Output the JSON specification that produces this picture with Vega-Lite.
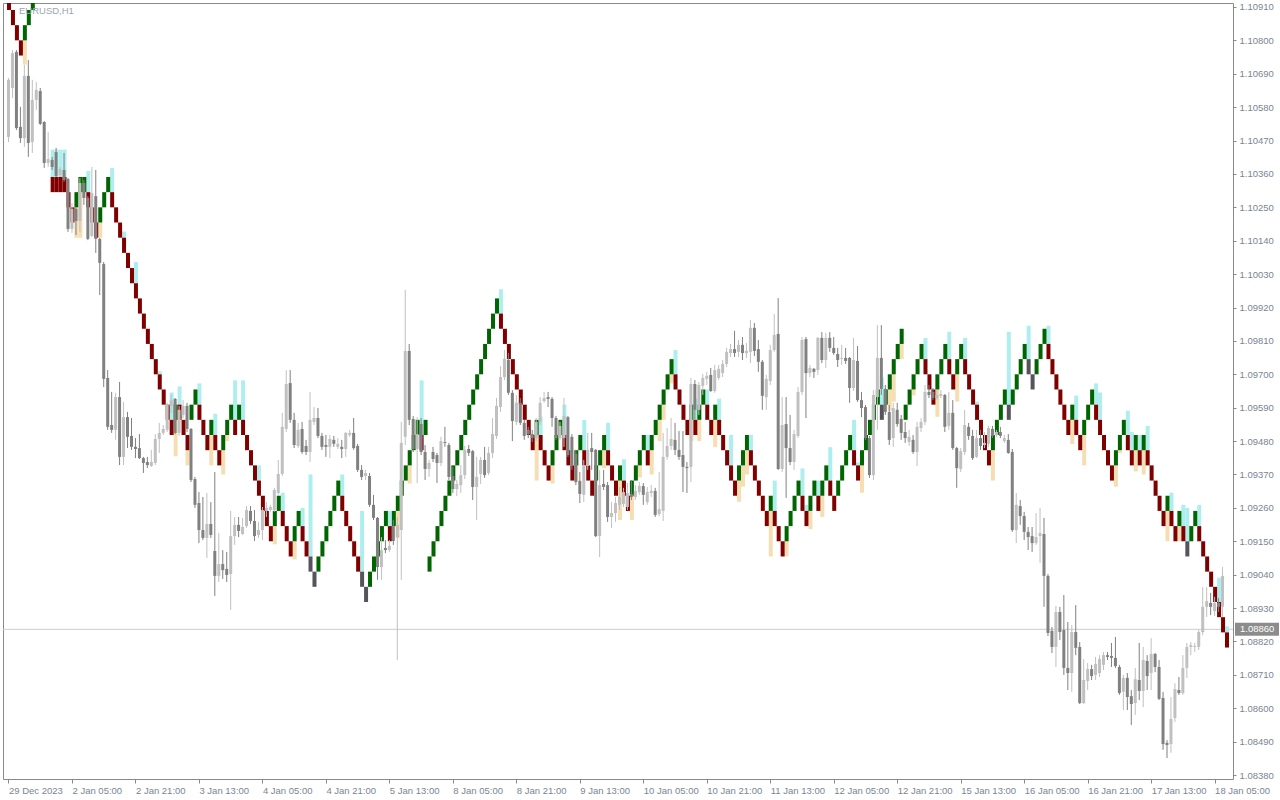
{
"$schema":"https://vega.github.io/schema/vega-lite/v6.json",
"width":1230,"height":776,
"autosize":{"type":"none"},
"padding":{"left":3,"top":3,"right":47,"bottom":21},
"background":"#ffffff",
"config":{"view":{"stroke":"#8a8a8a","strokeWidth":1},"font":"Liberation Sans","axis":{"labelOverlap":false,"labelSeparation":0}},
"title":{"text":"EURUSD,H1","anchor":"start","frame":"group","orient":"top","offset":0,"dx":16,"dy":22,"baseline":"alphabetic","font":"Liberation Sans","fontSize":9.5,"fontWeight":"normal","color":"#9aa5b1"},
"datasets":{
"last":[{"p":1.0886,"t":"1.08860"}],
"bricks":[
{"i":0,"d":"d","b":1.109,"e":1.1095},{"i":1,"d":"d","b":1.1085,"e":1.109},{"i":2,"d":"d","b":1.108,"e":1.1085},{"i":3,"d":"d","b":1.1075,"e":1.108},
{"i":4,"d":"u","b":1.108,"e":1.1085,"lo":1.1072},{"i":5,"d":"u","b":1.1085,"e":1.109},{"i":6,"d":"u","b":1.109,"e":1.1095},
{"i":11,"d":"d","b":1.103,"e":1.1035,"hi":1.1044},{"i":12,"d":"d","b":1.103,"e":1.1035,"hi":1.1044},{"i":13,"d":"d","b":1.103,"e":1.1035,"hi":1.1044},{"i":14,"d":"d","b":1.103,"e":1.1035,"hi":1.1044},
{"i":15,"d":"d","b":1.1025,"e":1.103},{"i":16,"d":"d","b":1.102,"e":1.1025},{"i":17,"d":"u","b":1.1025,"e":1.103,"lo":1.1015},{"i":18,"d":"u","b":1.103,"e":1.1035,"lo":1.1015},{"i":19,"d":"u","b":1.103,"e":1.1035},
{"i":20,"d":"d","b":1.1025,"e":1.103,"hi":1.1037},{"i":21,"d":"d","b":1.102,"e":1.1025},{"i":22,"d":"d","b":1.1015,"e":1.102},{"i":23,"d":"u","b":1.102,"e":1.1025,"lo":1.1015},{"i":24,"d":"u","b":1.1025,"e":1.103},{"i":25,"d":"u","b":1.103,"e":1.1035},
{"i":26,"d":"d","b":1.1025,"e":1.103,"hi":1.1038},{"i":27,"d":"d","b":1.102,"e":1.1025},{"i":28,"d":"d","b":1.1015,"e":1.102},{"i":29,"d":"d","b":1.101,"e":1.1015,"hi":1.1017},{"i":30,"d":"d","b":1.1005,"e":1.101},{"i":31,"d":"d","b":1.1,"e":1.1005},
{"i":32,"d":"d","b":1.0995,"e":1.1,"hi":1.1007},{"i":33,"d":"d","b":1.099,"e":1.0995},{"i":34,"d":"d","b":1.0985,"e":1.099},{"i":35,"d":"d","b":1.098,"e":1.0985},{"i":36,"d":"d","b":1.0975,"e":1.098},{"i":37,"d":"d","b":1.097,"e":1.0975},
{"i":38,"d":"d","b":1.0965,"e":1.097,"hi":1.0971},{"i":39,"d":"d","b":1.096,"e":1.0965},{"i":40,"d":"d","b":1.0955,"e":1.096},{"i":41,"d":"d","b":1.095,"e":1.0955,"hi":1.0964},{"i":42,"d":"u","b":1.0955,"e":1.096,"lo":1.0943},
{"i":43,"d":"d","b":1.0955,"e":1.096,"hi":1.0966},{"i":44,"d":"d","b":1.095,"e":1.0955},{"i":45,"d":"d","b":1.0945,"e":1.095,"lo":1.094},{"i":46,"d":"u","b":1.0955,"e":1.096},{"i":47,"d":"u","b":1.096,"e":1.0965},
{"i":48,"d":"d","b":1.0955,"e":1.096,"hi":1.0967},{"i":49,"d":"d","b":1.095,"e":1.0955},{"i":50,"d":"d","b":1.0945,"e":1.095},{"i":51,"d":"u","b":1.095,"e":1.0955,"lo":1.094},{"i":52,"d":"d","b":1.0945,"e":1.095,"hi":1.0957},
{"i":53,"d":"d","b":1.094,"e":1.0945},{"i":54,"d":"u","b":1.0945,"e":1.095,"lo":1.0937},{"i":55,"d":"u","b":1.095,"e":1.0955,"lo":1.0948},{"i":56,"d":"u","b":1.0955,"e":1.096},{"i":57,"d":"d","b":1.095,"e":1.0955,"hi":1.0968},
{"i":58,"d":"u","b":1.0955,"e":1.096},{"i":59,"d":"d","b":1.095,"e":1.0955,"hi":1.0968},{"i":60,"d":"d","b":1.0945,"e":1.095},{"i":61,"d":"d","b":1.094,"e":1.0945},{"i":62,"d":"d","b":1.0935,"e":1.094},
{"i":63,"d":"d","b":1.093,"e":1.0935,"hi":1.094},{"i":64,"d":"d","b":1.0925,"e":1.093},{"i":65,"d":"d","b":1.092,"e":1.0925},{"i":66,"d":"d","b":1.0915,"e":1.092},{"i":67,"d":"u","b":1.092,"e":1.0925,"lo":1.0914},
{"i":68,"d":"u","b":1.0925,"e":1.093},{"i":69,"d":"d","b":1.092,"e":1.0925,"hi":1.0931},{"i":70,"d":"d","b":1.0915,"e":1.092},{"i":71,"d":"d","b":1.091,"e":1.0915},{"i":72,"d":"u","b":1.0915,"e":1.092,"lo":1.0909},
{"i":73,"d":"u","b":1.092,"e":1.0925},{"i":74,"d":"d","b":1.0915,"e":1.092,"hi":1.0926},{"i":75,"d":"d","b":1.091,"e":1.0915},{"i":76,"d":"x","b":1.0905,"e":1.091,"hi":1.0937},{"i":77,"d":"x","b":1.09,"e":1.0905},
{"i":78,"d":"u","b":1.0905,"e":1.091},{"i":79,"d":"u","b":1.091,"e":1.0915},{"i":80,"d":"u","b":1.0915,"e":1.092},{"i":81,"d":"u","b":1.092,"e":1.0925},{"i":82,"d":"u","b":1.0925,"e":1.093},{"i":83,"d":"u","b":1.093,"e":1.0935},
{"i":84,"d":"d","b":1.0925,"e":1.093,"hi":1.0937},{"i":85,"d":"d","b":1.092,"e":1.0925},{"i":86,"d":"d","b":1.0915,"e":1.092},{"i":87,"d":"d","b":1.091,"e":1.0915},{"i":88,"d":"d","b":1.0905,"e":1.091},
{"i":89,"d":"x","b":1.09,"e":1.0905,"hi":1.0925},{"i":90,"d":"x","b":1.0895,"e":1.09},{"i":91,"d":"u","b":1.09,"e":1.0905},{"i":92,"d":"u","b":1.0905,"e":1.091},{"i":93,"d":"u","b":1.091,"e":1.0915},{"i":94,"d":"u","b":1.0915,"e":1.092},{"i":95,"d":"u","b":1.092,"e":1.0925},
{"i":96,"d":"d","b":1.0915,"e":1.092,"hi":1.0925},{"i":97,"d":"u","b":1.092,"e":1.0925},{"i":98,"d":"u","b":1.0925,"e":1.093,"lo":1.0916},{"i":99,"d":"u","b":1.093,"e":1.0935},{"i":100,"d":"u","b":1.0935,"e":1.094},
{"i":101,"d":"u","b":1.094,"e":1.0945,"lo":1.0934},{"i":102,"d":"u","b":1.0945,"e":1.095},{"i":103,"d":"u","b":1.095,"e":1.0955},{"i":104,"d":"d","b":1.0945,"e":1.095,"hi":1.0968},{"i":105,"d":"u","b":1.095,"e":1.0955},
{"i":106,"d":"u","b":1.0905,"e":1.091},{"i":107,"d":"u","b":1.091,"e":1.0915},{"i":108,"d":"u","b":1.0915,"e":1.092},{"i":109,"d":"u","b":1.092,"e":1.0925},{"i":110,"d":"u","b":1.0925,"e":1.093},{"i":111,"d":"u","b":1.093,"e":1.0935},
{"i":112,"d":"u","b":1.0935,"e":1.094},{"i":113,"d":"u","b":1.094,"e":1.0945},{"i":114,"d":"u","b":1.0945,"e":1.095},{"i":115,"d":"u","b":1.095,"e":1.0955},{"i":116,"d":"u","b":1.0955,"e":1.096},{"i":117,"d":"u","b":1.096,"e":1.0965},
{"i":118,"d":"u","b":1.0965,"e":1.097},{"i":119,"d":"u","b":1.097,"e":1.0975},{"i":120,"d":"u","b":1.0975,"e":1.098},{"i":121,"d":"u","b":1.098,"e":1.0985},{"i":122,"d":"u","b":1.0985,"e":1.099},{"i":123,"d":"u","b":1.099,"e":1.0995},
{"i":124,"d":"d","b":1.0985,"e":1.099,"hi":1.0998},{"i":125,"d":"d","b":1.098,"e":1.0985},{"i":126,"d":"d","b":1.0975,"e":1.098},{"i":127,"d":"d","b":1.097,"e":1.0975},{"i":128,"d":"d","b":1.0965,"e":1.097},{"i":129,"d":"d","b":1.096,"e":1.0965},
{"i":130,"d":"d","b":1.0955,"e":1.096},{"i":131,"d":"d","b":1.095,"e":1.0955},{"i":132,"d":"d","b":1.0945,"e":1.095},{"i":133,"d":"u","b":1.095,"e":1.0955,"lo":1.0935},{"i":134,"d":"d","b":1.0945,"e":1.095,"hi":1.0956},
{"i":135,"d":"d","b":1.094,"e":1.0945},{"i":136,"d":"d","b":1.0935,"e":1.094},{"i":137,"d":"u","b":1.094,"e":1.0945,"lo":1.0934},{"i":138,"d":"u","b":1.0945,"e":1.095},{"i":139,"d":"u","b":1.095,"e":1.0955},
{"i":140,"d":"d","b":1.0945,"e":1.095,"hi":1.096},{"i":141,"d":"d","b":1.094,"e":1.0945},{"i":142,"d":"d","b":1.0935,"e":1.094},{"i":143,"d":"u","b":1.094,"e":1.0945,"lo":1.0935},{"i":144,"d":"u","b":1.0945,"e":1.095},
{"i":145,"d":"d","b":1.094,"e":1.0945,"hi":1.0955},{"i":146,"d":"d","b":1.0935,"e":1.094},{"i":147,"d":"d","b":1.093,"e":1.0935},{"i":148,"d":"u","b":1.0935,"e":1.094},{"i":149,"d":"u","b":1.094,"e":1.0945},
{"i":150,"d":"u","b":1.0945,"e":1.095,"lo":1.0939},{"i":151,"d":"d","b":1.094,"e":1.0945,"hi":1.0954},{"i":152,"d":"d","b":1.0935,"e":1.094},{"i":153,"d":"d","b":1.093,"e":1.0935},{"i":154,"d":"u","b":1.0935,"e":1.094,"lo":1.0922},
{"i":155,"d":"d","b":1.093,"e":1.0935,"hi":1.0942},{"i":156,"d":"d","b":1.0925,"e":1.093},{"i":157,"d":"u","b":1.093,"e":1.0935,"lo":1.0922},{"i":158,"d":"u","b":1.0935,"e":1.094},{"i":159,"d":"u","b":1.094,"e":1.0945,"lo":1.0936},
{"i":160,"d":"u","b":1.0945,"e":1.095},{"i":161,"d":"d","b":1.094,"e":1.0945,"hi":1.095},{"i":162,"d":"u","b":1.0945,"e":1.095,"lo":1.0937},{"i":163,"d":"u","b":1.095,"e":1.0955},{"i":164,"d":"u","b":1.0955,"e":1.096,"lo":1.0948},
{"i":165,"d":"u","b":1.096,"e":1.0965,"lo":1.0955},{"i":166,"d":"u","b":1.0965,"e":1.097},{"i":167,"d":"u","b":1.097,"e":1.0975,"lo":1.0967},{"i":168,"d":"d","b":1.0965,"e":1.097,"hi":1.0978},{"i":169,"d":"d","b":1.096,"e":1.0965},
{"i":170,"d":"d","b":1.0955,"e":1.096},{"i":171,"d":"d","b":1.095,"e":1.0955},{"i":172,"d":"u","b":1.0955,"e":1.096,"lo":1.0948},{"i":173,"d":"d","b":1.095,"e":1.0955,"hi":1.0962},{"i":174,"d":"u","b":1.0955,"e":1.096,"lo":1.0948},
{"i":175,"d":"u","b":1.096,"e":1.0965},{"i":176,"d":"d","b":1.0955,"e":1.096,"hi":1.0965},{"i":177,"d":"d","b":1.095,"e":1.0955},{"i":178,"d":"u","b":1.0955,"e":1.096,"lo":1.0946},{"i":179,"d":"d","b":1.095,"e":1.0955,"hi":1.0962},
{"i":180,"d":"d","b":1.0945,"e":1.095},{"i":181,"d":"d","b":1.094,"e":1.0945},{"i":182,"d":"d","b":1.0935,"e":1.094,"hi":1.095},{"i":183,"d":"d","b":1.093,"e":1.0935},{"i":184,"d":"u","b":1.0935,"e":1.094,"lo":1.0928},
{"i":185,"d":"u","b":1.094,"e":1.0945,"lo":1.0933},{"i":186,"d":"u","b":1.0945,"e":1.095,"lo":1.0937},{"i":187,"d":"d","b":1.094,"e":1.0945,"hi":1.095},{"i":188,"d":"d","b":1.0935,"e":1.094},{"i":189,"d":"d","b":1.093,"e":1.0935},
{"i":190,"d":"d","b":1.0925,"e":1.093},{"i":191,"d":"d","b":1.092,"e":1.0925},{"i":192,"d":"u","b":1.0925,"e":1.093,"lo":1.091},{"i":193,"d":"d","b":1.092,"e":1.0925,"hi":1.0935},{"i":194,"d":"d","b":1.0915,"e":1.092},
{"i":195,"d":"d","b":1.091,"e":1.0915},{"i":196,"d":"u","b":1.0915,"e":1.092,"lo":1.091},{"i":197,"d":"u","b":1.092,"e":1.0925},{"i":198,"d":"u","b":1.0925,"e":1.093},{"i":199,"d":"u","b":1.093,"e":1.0935},
{"i":200,"d":"d","b":1.0925,"e":1.093,"hi":1.0939},{"i":201,"d":"d","b":1.092,"e":1.0925,"hi":1.0927},{"i":202,"d":"u","b":1.0925,"e":1.093,"lo":1.0919},{"i":203,"d":"u","b":1.093,"e":1.0935},{"i":204,"d":"d","b":1.0925,"e":1.093,"hi":1.0935},
{"i":205,"d":"u","b":1.093,"e":1.0935,"lo":1.0923},{"i":206,"d":"u","b":1.0935,"e":1.094},{"i":207,"d":"d","b":1.093,"e":1.0935,"hi":1.0946},{"i":208,"d":"d","b":1.0925,"e":1.093},{"i":209,"d":"u","b":1.093,"e":1.0935},
{"i":210,"d":"u","b":1.0935,"e":1.094},{"i":211,"d":"u","b":1.094,"e":1.0945},{"i":212,"d":"u","b":1.0945,"e":1.095},{"i":213,"d":"d","b":1.094,"e":1.0945,"hi":1.0955},{"i":214,"d":"d","b":1.0935,"e":1.094,"hi":1.0941},
{"i":215,"d":"u","b":1.094,"e":1.0945,"lo":1.0931},{"i":216,"d":"u","b":1.0945,"e":1.095},{"i":217,"d":"u","b":1.095,"e":1.0955},{"i":218,"d":"u","b":1.0955,"e":1.096},{"i":219,"d":"u","b":1.096,"e":1.0965},
{"i":220,"d":"x","b":1.0955,"e":1.096,"hi":1.0969},{"i":221,"d":"u","b":1.096,"e":1.0965},{"i":222,"d":"u","b":1.0965,"e":1.097,"lo":1.0958},{"i":223,"d":"u","b":1.097,"e":1.0975,"lo":1.0961},{"i":224,"d":"u","b":1.0975,"e":1.098},
{"i":225,"d":"u","b":1.098,"e":1.0985,"lo":1.0975},{"i":226,"d":"u","b":1.0955,"e":1.096},{"i":227,"d":"u","b":1.096,"e":1.0965},{"i":228,"d":"u","b":1.0965,"e":1.097,"lo":1.0963},{"i":229,"d":"u","b":1.097,"e":1.0975},
{"i":230,"d":"u","b":1.0975,"e":1.098},{"i":231,"d":"d","b":1.097,"e":1.0975,"hi":1.0982},{"i":232,"d":"d","b":1.0965,"e":1.097},{"i":233,"d":"d","b":1.096,"e":1.0965},{"i":234,"d":"u","b":1.0965,"e":1.097,"lo":1.0956},
{"i":235,"d":"u","b":1.097,"e":1.0975},{"i":236,"d":"u","b":1.0975,"e":1.098},{"i":237,"d":"d","b":1.097,"e":1.0975,"hi":1.0984},{"i":238,"d":"d","b":1.0965,"e":1.097},{"i":239,"d":"u","b":1.097,"e":1.0975,"lo":1.0961},
{"i":240,"d":"u","b":1.0975,"e":1.098},{"i":241,"d":"d","b":1.097,"e":1.0975,"hi":1.0982},{"i":242,"d":"d","b":1.0965,"e":1.097},{"i":243,"d":"d","b":1.096,"e":1.0965},{"i":244,"d":"d","b":1.0955,"e":1.096,"hi":1.0961},
{"i":245,"d":"d","b":1.095,"e":1.0955},{"i":246,"d":"d","b":1.0945,"e":1.095},{"i":247,"d":"d","b":1.094,"e":1.0945},{"i":248,"d":"u","b":1.0945,"e":1.095,"lo":1.0935},{"i":249,"d":"u","b":1.095,"e":1.0955},
{"i":250,"d":"u","b":1.0955,"e":1.096},{"i":251,"d":"u","b":1.096,"e":1.0965},{"i":252,"d":"x","b":1.0955,"e":1.096,"hi":1.0984},{"i":253,"d":"u","b":1.096,"e":1.0965},{"i":254,"d":"u","b":1.0965,"e":1.097},
{"i":255,"d":"u","b":1.097,"e":1.0975},{"i":256,"d":"u","b":1.0975,"e":1.098},{"i":257,"d":"x","b":1.097,"e":1.0975,"hi":1.0986},{"i":258,"d":"x","b":1.0965,"e":1.097},{"i":259,"d":"u","b":1.097,"e":1.0975},
{"i":260,"d":"u","b":1.0975,"e":1.098},{"i":261,"d":"u","b":1.098,"e":1.0985},{"i":262,"d":"d","b":1.0975,"e":1.098,"hi":1.0986},{"i":263,"d":"d","b":1.097,"e":1.0975},{"i":264,"d":"d","b":1.0965,"e":1.097},
{"i":265,"d":"d","b":1.096,"e":1.0965},{"i":266,"d":"d","b":1.0955,"e":1.096},{"i":267,"d":"d","b":1.095,"e":1.0955},{"i":268,"d":"u","b":1.0955,"e":1.096,"lo":1.0947},{"i":269,"d":"d","b":1.095,"e":1.0955,"hi":1.0963},
{"i":270,"d":"d","b":1.0945,"e":1.095},{"i":271,"d":"u","b":1.095,"e":1.0955,"lo":1.094},{"i":272,"d":"u","b":1.0955,"e":1.096},{"i":273,"d":"u","b":1.096,"e":1.0965},{"i":274,"d":"d","b":1.0955,"e":1.096,"hi":1.0967},
{"i":275,"d":"d","b":1.095,"e":1.0955,"hi":1.0964},{"i":276,"d":"d","b":1.0945,"e":1.095},{"i":277,"d":"d","b":1.094,"e":1.0945,"hi":1.0945},{"i":278,"d":"d","b":1.0935,"e":1.094},{"i":279,"d":"u","b":1.094,"e":1.0945,"lo":1.0933},
{"i":280,"d":"u","b":1.0945,"e":1.095,"lo":1.0944},{"i":281,"d":"u","b":1.095,"e":1.0955},{"i":282,"d":"d","b":1.0945,"e":1.095,"hi":1.0958},{"i":283,"d":"d","b":1.094,"e":1.0945,"hi":1.0951},{"i":284,"d":"u","b":1.0945,"e":1.095,"lo":1.0938},
{"i":285,"d":"d","b":1.094,"e":1.0945,"hi":1.095},{"i":286,"d":"u","b":1.0945,"e":1.095,"lo":1.0937},{"i":287,"d":"d","b":1.094,"e":1.0945,"hi":1.0953},{"i":288,"d":"d","b":1.0935,"e":1.094},{"i":289,"d":"d","b":1.093,"e":1.0935},
{"i":290,"d":"d","b":1.0925,"e":1.093},{"i":291,"d":"d","b":1.092,"e":1.0925},{"i":292,"d":"u","b":1.0925,"e":1.093,"lo":1.0915},{"i":293,"d":"d","b":1.092,"e":1.0925,"hi":1.0931},{"i":294,"d":"d","b":1.0915,"e":1.092},
{"i":295,"d":"u","b":1.092,"e":1.0925,"lo":1.0915},{"i":296,"d":"d","b":1.0915,"e":1.092,"hi":1.0927},{"i":297,"d":"x","b":1.091,"e":1.0915,"hi":1.0926},{"i":298,"d":"u","b":1.0915,"e":1.092},{"i":299,"d":"u","b":1.092,"e":1.0925},
{"i":300,"d":"d","b":1.0915,"e":1.092,"hi":1.0927},{"i":301,"d":"d","b":1.091,"e":1.0915},{"i":302,"d":"d","b":1.0905,"e":1.091},{"i":303,"d":"d","b":1.09,"e":1.0905},{"i":304,"d":"d","b":1.0895,"e":1.09},
{"i":305,"d":"d","b":1.089,"e":1.0895,"hi":1.0903},{"i":306,"d":"d","b":1.0885,"e":1.089},{"i":307,"d":"d","b":1.088,"e":1.0885,"hi":1.0887}
],
"candles":[
{"i":0,"o":1.10482,"h":1.10676,"l":1.10465,"c":1.1067},{"i":1,"o":1.10643,"h":1.10768,"l":1.1061,"c":1.10758},{"i":2,"o":1.10762,"h":1.10768,"l":1.10505,"c":1.10511},{"i":3,"o":1.10515,"h":1.10581,"l":1.10462,"c":1.10478},
{"i":4,"o":1.10478,"h":1.10719,"l":1.10449,"c":1.10683},{"i":5,"o":1.10683,"h":1.10735,"l":1.10416,"c":1.10462},{"i":6,"o":1.10465,"h":1.1067,"l":1.10429,"c":1.10604},{"i":7,"o":1.10604,"h":1.10663,"l":1.10571,"c":1.10637},
{"i":8,"o":1.10633,"h":1.10643,"l":1.10521,"c":1.10525},{"i":9,"o":1.10531,"h":1.10534,"l":1.1038,"c":1.10396},{"i":10,"o":1.10396,"h":1.10498,"l":1.10383,"c":1.10409},{"i":11,"o":1.10406,"h":1.10416,"l":1.10373,"c":1.10383},
{"i":12,"o":1.10432,"h":1.10446,"l":1.1035,"c":1.10353},{"i":13,"o":1.10357,"h":1.10383,"l":1.1035,"c":1.10376},{"i":14,"o":1.10373,"h":1.10429,"l":1.10334,"c":1.1034},{"i":15,"o":1.10343,"h":1.10347,"l":1.10169,"c":1.10179},
{"i":16,"o":1.10179,"h":1.10264,"l":1.10166,"c":1.10245},{"i":17,"o":1.10245,"h":1.10251,"l":1.10159,"c":1.10205},{"i":18,"o":1.10205,"h":1.10347,"l":1.10169,"c":1.1033},{"i":19,"o":1.1033,"h":1.1034,"l":1.10258,"c":1.10281},
{"i":20,"o":1.10281,"h":1.10287,"l":1.10142,"c":1.10146},{"i":21,"o":1.10156,"h":1.10383,"l":1.10152,"c":1.10297},{"i":22,"o":1.10287,"h":1.10373,"l":1.101,"c":1.10146},{"i":23,"o":1.10146,"h":1.10149,"l":1.09961,"c":1.10067},
{"i":24,"o":1.10063,"h":1.1007,"l":1.09658,"c":1.09685},{"i":25,"o":1.09688,"h":1.09714,"l":1.09517,"c":1.09527},{"i":26,"o":1.09533,"h":1.09642,"l":1.09507,"c":1.09517},{"i":27,"o":1.09517,"h":1.09639,"l":1.09484,"c":1.09625},
{"i":28,"o":1.09625,"h":1.09675,"l":1.09401,"c":1.09428},{"i":29,"o":1.09428,"h":1.09609,"l":1.09401,"c":1.09559},{"i":30,"o":1.09559,"h":1.09576,"l":1.09457,"c":1.09494},{"i":31,"o":1.09497,"h":1.09556,"l":1.09451,"c":1.09461},
{"i":32,"o":1.09461,"h":1.0949,"l":1.09424,"c":1.09454},{"i":33,"o":1.09457,"h":1.09503,"l":1.09421,"c":1.09424},{"i":34,"o":1.09424,"h":1.09428,"l":1.09375,"c":1.09408},{"i":35,"o":1.09411,"h":1.09428,"l":1.09391,"c":1.09401},
{"i":36,"o":1.09398,"h":1.09451,"l":1.09395,"c":1.09411},{"i":37,"o":1.09408,"h":1.09503,"l":1.09401,"c":1.09487},{"i":38,"o":1.09487,"h":1.0954,"l":1.09441,"c":1.09507},{"i":39,"o":1.09507,"h":1.09533,"l":1.095,"c":1.0952},
{"i":40,"o":1.09517,"h":1.09606,"l":1.0951,"c":1.09602},{"i":41,"o":1.09596,"h":1.09632,"l":1.09573,"c":1.09615},{"i":42,"o":1.09619,"h":1.09622,"l":1.09503,"c":1.09507},{"i":43,"o":1.09507,"h":1.09596,"l":1.09497,"c":1.09583},
{"i":44,"o":1.09566,"h":1.09615,"l":1.09556,"c":1.09596},{"i":45,"o":1.09596,"h":1.09606,"l":1.0951,"c":1.0952},{"i":46,"o":1.0952,"h":1.09523,"l":1.09345,"c":1.09352},{"i":47,"o":1.09355,"h":1.09362,"l":1.0926,"c":1.0927},
{"i":48,"o":1.09276,"h":1.09312,"l":1.09144,"c":1.09187},{"i":49,"o":1.09187,"h":1.09296,"l":1.09154,"c":1.09161},{"i":50,"o":1.09161,"h":1.09309,"l":1.09095,"c":1.09207},{"i":51,"o":1.09207,"h":1.09279,"l":1.09161,"c":1.09171},
{"i":52,"o":1.09118,"h":1.09378,"l":1.0897,"c":1.09036},{"i":53,"o":1.09036,"h":1.09177,"l":1.09016,"c":1.09075},{"i":54,"o":1.09075,"h":1.09121,"l":1.09026,"c":1.09055},{"i":55,"o":1.09059,"h":1.09115,"l":1.09016,"c":1.09039},
{"i":56,"o":1.09042,"h":1.0925,"l":1.08924,"c":1.09167},{"i":57,"o":1.09167,"h":1.0923,"l":1.09138,"c":1.09204},{"i":58,"o":1.09204,"h":1.0923,"l":1.09164,"c":1.09184},{"i":59,"o":1.09174,"h":1.09227,"l":1.09171,"c":1.09197},
{"i":60,"o":1.092,"h":1.09266,"l":1.09194,"c":1.09253},{"i":61,"o":1.0925,"h":1.09266,"l":1.09207,"c":1.09217},{"i":62,"o":1.09217,"h":1.09253,"l":1.09151,"c":1.09167},{"i":63,"o":1.09171,"h":1.09214,"l":1.09161,"c":1.09187},
{"i":64,"o":1.09187,"h":1.09263,"l":1.09154,"c":1.09253},{"i":65,"o":1.0925,"h":1.09279,"l":1.0923,"c":1.0926},{"i":66,"o":1.09253,"h":1.0927,"l":1.09247,"c":1.09263},{"i":67,"o":1.09253,"h":1.09326,"l":1.09247,"c":1.09319},
{"i":68,"o":1.09309,"h":1.09418,"l":1.09303,"c":1.09372},{"i":69,"o":1.09372,"h":1.09573,"l":1.09365,"c":1.09527},{"i":70,"o":1.0952,"h":1.09714,"l":1.0951,"c":1.09668},{"i":71,"o":1.09671,"h":1.09714,"l":1.0954,"c":1.0955},
{"i":72,"o":1.0955,"h":1.09573,"l":1.09457,"c":1.09467},{"i":73,"o":1.09464,"h":1.0954,"l":1.09457,"c":1.09517},{"i":74,"o":1.0952,"h":1.09543,"l":1.09438,"c":1.09444},{"i":75,"o":1.09464,"h":1.09484,"l":1.09434,"c":1.09444},
{"i":76,"o":1.09444,"h":1.09642,"l":1.09411,"c":1.0955},{"i":77,"o":1.09543,"h":1.09592,"l":1.09533,"c":1.09556},{"i":78,"o":1.09556,"h":1.09589,"l":1.0949,"c":1.09497},{"i":79,"o":1.09497,"h":1.09507,"l":1.09451,"c":1.09461},
{"i":80,"o":1.09467,"h":1.095,"l":1.09428,"c":1.09461},{"i":81,"o":1.09461,"h":1.095,"l":1.09424,"c":1.09487},{"i":82,"o":1.09484,"h":1.09497,"l":1.09461,"c":1.09471},{"i":83,"o":1.09461,"h":1.0949,"l":1.09454,"c":1.09471},
{"i":84,"o":1.09461,"h":1.09484,"l":1.09424,"c":1.09454},{"i":85,"o":1.09454,"h":1.0951,"l":1.09428,"c":1.09507},{"i":86,"o":1.095,"h":1.09517,"l":1.09494,"c":1.09507},{"i":87,"o":1.09507,"h":1.09556,"l":1.09451,"c":1.09457},
{"i":88,"o":1.09464,"h":1.09471,"l":1.09378,"c":1.09385},{"i":89,"o":1.09385,"h":1.09401,"l":1.09352,"c":1.09362},{"i":90,"o":1.09365,"h":1.09385,"l":1.09352,"c":1.09375},{"i":91,"o":1.09365,"h":1.09375,"l":1.09263,"c":1.0927},
{"i":92,"o":1.0927,"h":1.09303,"l":1.0922,"c":1.09227},{"i":93,"o":1.09227,"h":1.0923,"l":1.09023,"c":1.09065},{"i":94,"o":1.09065,"h":1.09164,"l":1.09023,"c":1.09121},{"i":95,"o":1.09128,"h":1.09154,"l":1.09111,"c":1.09121},
{"i":96,"o":1.09121,"h":1.09154,"l":1.09115,"c":1.09135},{"i":97,"o":1.092,"h":1.0922,"l":1.09138,"c":1.09151},{"i":98,"o":1.09164,"h":1.0923,"l":1.08759,"c":1.09204},{"i":99,"o":1.09187,"h":1.09543,"l":1.09023,"c":1.09474},
{"i":100,"o":1.09494,"h":1.09978,"l":1.09467,"c":1.09777},{"i":101,"o":1.09777,"h":1.098,"l":1.09533,"c":1.0955},{"i":102,"o":1.09553,"h":1.09563,"l":1.09444,"c":1.09454},{"i":103,"o":1.09454,"h":1.09559,"l":1.09342,"c":1.09503},
{"i":104,"o":1.09536,"h":1.09556,"l":1.09434,"c":1.09444},{"i":105,"o":1.09444,"h":1.09467,"l":1.09352,"c":1.09388},{"i":106,"o":1.09388,"h":1.09418,"l":1.09362,"c":1.09408},{"i":107,"o":1.09444,"h":1.09461,"l":1.09411,"c":1.09421},
{"i":108,"o":1.09434,"h":1.09441,"l":1.09342,"c":1.09408},{"i":109,"o":1.09408,"h":1.09494,"l":1.09398,"c":1.0948},{"i":110,"o":1.09477,"h":1.09527,"l":1.09461,"c":1.09474},{"i":111,"o":1.09467,"h":1.09474,"l":1.09352,"c":1.09362},
{"i":112,"o":1.09365,"h":1.09395,"l":1.09309,"c":1.09322},{"i":113,"o":1.09322,"h":1.09352,"l":1.09299,"c":1.09339},{"i":114,"o":1.09335,"h":1.09401,"l":1.09309,"c":1.09368},{"i":115,"o":1.09368,"h":1.09464,"l":1.09355,"c":1.09451},
{"i":116,"o":1.09454,"h":1.09467,"l":1.09431,"c":1.09441},{"i":117,"o":1.09447,"h":1.09451,"l":1.09286,"c":1.09329},{"i":118,"o":1.09329,"h":1.09428,"l":1.0922,"c":1.09362},{"i":119,"o":1.09372,"h":1.09428,"l":1.09339,"c":1.09418},
{"i":120,"o":1.09418,"h":1.09461,"l":1.09359,"c":1.09368},{"i":121,"o":1.09375,"h":1.09461,"l":1.09368,"c":1.09441},{"i":122,"o":1.09441,"h":1.09556,"l":1.09424,"c":1.09503},{"i":123,"o":1.09497,"h":1.09622,"l":1.09487,"c":1.09596},
{"i":124,"o":1.09592,"h":1.09727,"l":1.09576,"c":1.09691},{"i":125,"o":1.09691,"h":1.0978,"l":1.09681,"c":1.09751},{"i":126,"o":1.09747,"h":1.0977,"l":1.09632,"c":1.09639},{"i":127,"o":1.09639,"h":1.09648,"l":1.0948,"c":1.09546},
{"i":128,"o":1.09543,"h":1.09632,"l":1.09533,"c":1.09606},{"i":129,"o":1.09606,"h":1.09622,"l":1.09533,"c":1.0954},{"i":130,"o":1.0954,"h":1.0955,"l":1.09484,"c":1.09497},{"i":131,"o":1.09517,"h":1.09527,"l":1.0949,"c":1.09503},
{"i":132,"o":1.09503,"h":1.09517,"l":1.09477,"c":1.0949},{"i":133,"o":1.0949,"h":1.09556,"l":1.0948,"c":1.09543},{"i":134,"o":1.09543,"h":1.09625,"l":1.09533,"c":1.09606},{"i":135,"o":1.09612,"h":1.09642,"l":1.09606,"c":1.09622},
{"i":136,"o":1.09625,"h":1.09642,"l":1.09592,"c":1.09619},{"i":137,"o":1.09619,"h":1.09625,"l":1.09527,"c":1.09556},{"i":138,"o":1.09556,"h":1.09563,"l":1.09484,"c":1.0949},{"i":139,"o":1.0949,"h":1.09543,"l":1.09484,"c":1.0953},
{"i":140,"o":1.0949,"h":1.09622,"l":1.09461,"c":1.09563},{"i":141,"o":1.09559,"h":1.09563,"l":1.09428,"c":1.09434},{"i":142,"o":1.09494,"h":1.09503,"l":1.09385,"c":1.09401},{"i":143,"o":1.09438,"h":1.09451,"l":1.09335,"c":1.09345},
{"i":144,"o":1.09349,"h":1.09378,"l":1.09276,"c":1.09306},{"i":145,"o":1.09303,"h":1.09418,"l":1.09279,"c":1.09398},{"i":146,"o":1.09398,"h":1.09507,"l":1.09385,"c":1.09451},{"i":147,"o":1.09457,"h":1.09507,"l":1.09385,"c":1.09444},
{"i":148,"o":1.09451,"h":1.09454,"l":1.09164,"c":1.09167},{"i":149,"o":1.09167,"h":1.09385,"l":1.09098,"c":1.09335},{"i":150,"o":1.09339,"h":1.09385,"l":1.09319,"c":1.09329},{"i":151,"o":1.09335,"h":1.09345,"l":1.09214,"c":1.0923},
{"i":152,"o":1.0923,"h":1.09279,"l":1.09194,"c":1.09243},{"i":153,"o":1.09243,"h":1.09296,"l":1.09214,"c":1.09276},{"i":154,"o":1.0927,"h":1.09329,"l":1.09253,"c":1.09296},{"i":155,"o":1.09273,"h":1.09326,"l":1.09263,"c":1.09312},
{"i":156,"o":1.09263,"h":1.09342,"l":1.09253,"c":1.09309},{"i":157,"o":1.09306,"h":1.09352,"l":1.09286,"c":1.09296},{"i":158,"o":1.09296,"h":1.09335,"l":1.09286,"c":1.09316},{"i":159,"o":1.09312,"h":1.09345,"l":1.09303,"c":1.09332},
{"i":160,"o":1.09332,"h":1.09342,"l":1.0927,"c":1.09303},{"i":161,"o":1.09279,"h":1.09329,"l":1.0927,"c":1.09312},{"i":162,"o":1.09309,"h":1.09335,"l":1.09296,"c":1.09316},{"i":163,"o":1.09316,"h":1.09326,"l":1.0923,"c":1.09237},
{"i":164,"o":1.0924,"h":1.09378,"l":1.09233,"c":1.09256},{"i":165,"o":1.0925,"h":1.09507,"l":1.09217,"c":1.09428},{"i":166,"o":1.09428,"h":1.09523,"l":1.09418,"c":1.09464},{"i":167,"o":1.09464,"h":1.09556,"l":1.09451,"c":1.09487},
{"i":168,"o":1.09484,"h":1.0954,"l":1.09434,"c":1.09451},{"i":169,"o":1.09451,"h":1.09513,"l":1.09418,"c":1.09428},{"i":170,"o":1.09434,"h":1.09513,"l":1.09312,"c":1.09395},{"i":171,"o":1.09395,"h":1.09411,"l":1.09309,"c":1.09391},
{"i":172,"o":1.09395,"h":1.09688,"l":1.09345,"c":1.09668},{"i":173,"o":1.09668,"h":1.09681,"l":1.0955,"c":1.09583},{"i":174,"o":1.09583,"h":1.09675,"l":1.09566,"c":1.09665},{"i":175,"o":1.09662,"h":1.09701,"l":1.09632,"c":1.09688},
{"i":176,"o":1.09685,"h":1.09708,"l":1.09665,"c":1.09695},{"i":177,"o":1.09698,"h":1.09721,"l":1.09642,"c":1.09645},{"i":178,"o":1.09645,"h":1.09731,"l":1.09639,"c":1.09714},{"i":179,"o":1.09688,"h":1.09731,"l":1.09681,"c":1.09718},
{"i":180,"o":1.09704,"h":1.09747,"l":1.09691,"c":1.09734},{"i":181,"o":1.09734,"h":1.09787,"l":1.09724,"c":1.09774},{"i":182,"o":1.0977,"h":1.098,"l":1.09757,"c":1.09783},{"i":183,"o":1.09783,"h":1.09843,"l":1.09757,"c":1.0977},
{"i":184,"o":1.09774,"h":1.09813,"l":1.09757,"c":1.09797},{"i":185,"o":1.09797,"h":1.09823,"l":1.09747,"c":1.0977},{"i":186,"o":1.0977,"h":1.09803,"l":1.09754,"c":1.09777},{"i":187,"o":1.09774,"h":1.09879,"l":1.09737,"c":1.09853},
{"i":188,"o":1.09853,"h":1.09869,"l":1.0976,"c":1.09777},{"i":189,"o":1.09783,"h":1.09813,"l":1.09708,"c":1.09741},{"i":190,"o":1.09741,"h":1.09747,"l":1.09583,"c":1.09629},{"i":191,"o":1.09625,"h":1.09698,"l":1.09583,"c":1.09685},
{"i":192,"o":1.09678,"h":1.09797,"l":1.09665,"c":1.0978},{"i":193,"o":1.0978,"h":1.09899,"l":1.09774,"c":1.0983},{"i":194,"o":1.09833,"h":1.09951,"l":1.09385,"c":1.09388},{"i":195,"o":1.09388,"h":1.09625,"l":1.09378,"c":1.09533},
{"i":196,"o":1.09536,"h":1.09625,"l":1.09293,"c":1.09457},{"i":197,"o":1.09457,"h":1.09566,"l":1.09401,"c":1.09411},{"i":198,"o":1.09411,"h":1.09517,"l":1.09385,"c":1.09503},{"i":199,"o":1.09497,"h":1.09658,"l":1.0949,"c":1.09642},
{"i":200,"o":1.09642,"h":1.09823,"l":1.09632,"c":1.09813},{"i":201,"o":1.09816,"h":1.09823,"l":1.09556,"c":1.09704},{"i":202,"o":1.09704,"h":1.09731,"l":1.09691,"c":1.09721},{"i":203,"o":1.09718,"h":1.09721,"l":1.09688,"c":1.09708},
{"i":204,"o":1.09714,"h":1.09823,"l":1.09698,"c":1.0982},{"i":205,"o":1.0982,"h":1.09839,"l":1.09737,"c":1.09747},{"i":206,"o":1.09747,"h":1.09836,"l":1.09721,"c":1.0982},{"i":207,"o":1.0982,"h":1.09839,"l":1.09774,"c":1.09787},
{"i":208,"o":1.09787,"h":1.09823,"l":1.09764,"c":1.0977},{"i":209,"o":1.09767,"h":1.09787,"l":1.09724,"c":1.09747},{"i":210,"o":1.09751,"h":1.09797,"l":1.09731,"c":1.09754},{"i":211,"o":1.09754,"h":1.09787,"l":1.09734,"c":1.09744},
{"i":212,"o":1.09754,"h":1.09757,"l":1.09606,"c":1.09655},{"i":213,"o":1.09655,"h":1.0982,"l":1.09645,"c":1.09747},{"i":214,"o":1.09744,"h":1.09793,"l":1.09609,"c":1.09615},{"i":215,"o":1.09615,"h":1.09642,"l":1.09559,"c":1.09589},
{"i":216,"o":1.09592,"h":1.09599,"l":1.09484,"c":1.0949},{"i":217,"o":1.0949,"h":1.09497,"l":1.09359,"c":1.09368},{"i":218,"o":1.09368,"h":1.09648,"l":1.09352,"c":1.09632},{"i":219,"o":1.09625,"h":1.09862,"l":1.09517,"c":1.09754},
{"i":220,"o":1.09754,"h":1.09862,"l":1.09632,"c":1.09652},{"i":221,"o":1.09652,"h":1.09665,"l":1.09566,"c":1.09576},{"i":222,"o":1.09576,"h":1.09599,"l":1.09467,"c":1.09484},{"i":223,"o":1.0949,"h":1.09606,"l":1.09461,"c":1.09589},
{"i":224,"o":1.09583,"h":1.09606,"l":1.09527,"c":1.09536},{"i":225,"o":1.09553,"h":1.09566,"l":1.09484,"c":1.09507},{"i":226,"o":1.0951,"h":1.09543,"l":1.09474,"c":1.0949},{"i":227,"o":1.09477,"h":1.09517,"l":1.09464,"c":1.09494},
{"i":228,"o":1.09484,"h":1.095,"l":1.09438,"c":1.09444},{"i":229,"o":1.09444,"h":1.09543,"l":1.09398,"c":1.09527},{"i":230,"o":1.09523,"h":1.09556,"l":1.0951,"c":1.09543},{"i":231,"o":1.09543,"h":1.09665,"l":1.09533,"c":1.09642},
{"i":232,"o":1.09642,"h":1.09665,"l":1.09622,"c":1.09632},{"i":233,"o":1.09642,"h":1.09655,"l":1.09615,"c":1.09622},{"i":234,"o":1.09622,"h":1.09648,"l":1.09615,"c":1.09632},{"i":235,"o":1.09629,"h":1.09648,"l":1.09622,"c":1.09635},
{"i":236,"o":1.09632,"h":1.09635,"l":1.0951,"c":1.09527},{"i":237,"o":1.0953,"h":1.09642,"l":1.09517,"c":1.09573},{"i":238,"o":1.09573,"h":1.09615,"l":1.09451,"c":1.09457},{"i":239,"o":1.09457,"h":1.09461,"l":1.09326,"c":1.09391},
{"i":240,"o":1.09388,"h":1.09457,"l":1.09378,"c":1.09447},{"i":241,"o":1.09444,"h":1.09583,"l":1.09434,"c":1.09533},{"i":242,"o":1.09527,"h":1.0954,"l":1.09484,"c":1.09497},{"i":243,"o":1.09497,"h":1.09517,"l":1.09418,"c":1.09424},
{"i":244,"o":1.09428,"h":1.09517,"l":1.09424,"c":1.0949},{"i":245,"o":1.0949,"h":1.09517,"l":1.09451,"c":1.09464},{"i":246,"o":1.09467,"h":1.0951,"l":1.09457,"c":1.09474},{"i":247,"o":1.09471,"h":1.0953,"l":1.09461,"c":1.09523},
{"i":248,"o":1.0952,"h":1.0953,"l":1.0949,"c":1.09497},{"i":249,"o":1.095,"h":1.09517,"l":1.09494,"c":1.0951},{"i":250,"o":1.0951,"h":1.09527,"l":1.0949,"c":1.09497},{"i":251,"o":1.0948,"h":1.095,"l":1.09474,"c":1.0949},
{"i":252,"o":1.09484,"h":1.09503,"l":1.09438,"c":1.09441},{"i":253,"o":1.09444,"h":1.09454,"l":1.09181,"c":1.09187},{"i":254,"o":1.09187,"h":1.09309,"l":1.09144,"c":1.0927},{"i":255,"o":1.09266,"h":1.09286,"l":1.09204,"c":1.09233},
{"i":256,"o":1.09233,"h":1.09247,"l":1.09154,"c":1.09181},{"i":257,"o":1.09181,"h":1.09197,"l":1.09121,"c":1.09164},{"i":258,"o":1.09167,"h":1.09197,"l":1.09115,"c":1.09144},{"i":259,"o":1.09144,"h":1.09243,"l":1.09138,"c":1.09164},
{"i":260,"o":1.09167,"h":1.0926,"l":1.09079,"c":1.09177},{"i":261,"o":1.09174,"h":1.09227,"l":1.08934,"c":1.09036},{"i":262,"o":1.09036,"h":1.09042,"l":1.08838,"c":1.08848},{"i":263,"o":1.08855,"h":1.08868,"l":1.08782,"c":1.08802},
{"i":264,"o":1.08802,"h":1.08937,"l":1.08736,"c":1.08917},{"i":265,"o":1.08917,"h":1.08934,"l":1.08825,"c":1.08851},{"i":266,"o":1.08858,"h":1.08973,"l":1.0871,"c":1.08733},{"i":267,"o":1.08733,"h":1.08884,"l":1.0866,"c":1.08716},
{"i":268,"o":1.08716,"h":1.08874,"l":1.08654,"c":1.08851},{"i":269,"o":1.08851,"h":1.0894,"l":1.08775,"c":1.08799},{"i":270,"o":1.08802,"h":1.08818,"l":1.08614,"c":1.08617},{"i":271,"o":1.08617,"h":1.08762,"l":1.08614,"c":1.08693},
{"i":272,"o":1.0869,"h":1.08749,"l":1.0866,"c":1.08729},{"i":273,"o":1.08729,"h":1.08743,"l":1.08693,"c":1.08706},{"i":274,"o":1.0871,"h":1.08769,"l":1.08693,"c":1.08746},{"i":275,"o":1.08716,"h":1.08775,"l":1.08703,"c":1.08762},
{"i":276,"o":1.08743,"h":1.08785,"l":1.08726,"c":1.08775},{"i":277,"o":1.08775,"h":1.08785,"l":1.08759,"c":1.08769},{"i":278,"o":1.08772,"h":1.08815,"l":1.08736,"c":1.08766},{"i":279,"o":1.08766,"h":1.08835,"l":1.08733,"c":1.08739},
{"i":280,"o":1.08736,"h":1.08743,"l":1.08644,"c":1.0865},{"i":281,"o":1.08654,"h":1.0871,"l":1.08594,"c":1.087},{"i":282,"o":1.087,"h":1.08716,"l":1.08594,"c":1.08637},{"i":283,"o":1.0864,"h":1.0866,"l":1.08545,"c":1.08614},
{"i":284,"o":1.08617,"h":1.08733,"l":1.08578,"c":1.08696},{"i":285,"o":1.08693,"h":1.08815,"l":1.08627,"c":1.08657},{"i":286,"o":1.08657,"h":1.08802,"l":1.08604,"c":1.08759},{"i":287,"o":1.08756,"h":1.08775,"l":1.0866,"c":1.08706},
{"i":288,"o":1.08716,"h":1.08831,"l":1.0866,"c":1.08779},{"i":289,"o":1.08779,"h":1.08782,"l":1.08719,"c":1.08736},{"i":290,"o":1.08736,"h":1.08759,"l":1.08627,"c":1.08631},{"i":291,"o":1.08634,"h":1.08654,"l":1.08463,"c":1.08482},
{"i":292,"o":1.08486,"h":1.08495,"l":1.08436,"c":1.08479},{"i":293,"o":1.08482,"h":1.08637,"l":1.08453,"c":1.08565},{"i":294,"o":1.08568,"h":1.08683,"l":1.08555,"c":1.08663},{"i":295,"o":1.0866,"h":1.08703,"l":1.08644,"c":1.0865},
{"i":296,"o":1.0865,"h":1.08775,"l":1.08644,"c":1.08733},{"i":297,"o":1.08733,"h":1.08815,"l":1.087,"c":1.08802},{"i":298,"o":1.08802,"h":1.08818,"l":1.08775,"c":1.08808},{"i":299,"o":1.08802,"h":1.08815,"l":1.08785,"c":1.08805},
{"i":300,"o":1.08802,"h":1.08858,"l":1.08792,"c":1.08851},{"i":301,"o":1.08851,"h":1.08999,"l":1.08841,"c":1.08934},{"i":302,"o":1.08934,"h":1.08999,"l":1.08901,"c":1.08953},{"i":303,"o":1.08947,"h":1.0898,"l":1.08907,"c":1.08934},
{"i":304,"o":1.0892,"h":1.08967,"l":1.08904,"c":1.08947},{"i":305,"o":1.08947,"h":1.08963,"l":1.08917,"c":1.08934},{"i":306,"o":1.08934,"h":1.09065,"l":1.08901,"c":1.09036}
]
},
"layer":[
{"data":{"name":"last"},"mark":{"type":"rule","color":"#cccccc","strokeWidth":1},
 "encoding":{"y":{"field":"p","type":"quantitative","scale":{"domain":[1.08367,1.10923],"nice":false,"zero":false},
  "axis":{"orient":"right","title":null,"grid":false,"domain":false,"values":[1.1091,1.108,1.1069,1.1058,1.1047,1.1036,1.1025,1.1014,1.1003,1.0992,1.0981,1.097,1.0959,1.0948,1.0937,1.0926,1.0915,1.0904,1.0893,1.0882,1.0871,1.086,1.0849,1.0838],"format":".5f","tickSize":3,"tickColor":"#8a8a8a","labelPadding":3,"labelFont":"Liberation Sans","labelFontSize":9.5,"labelColor":"#7a8592","labelBaseline":"middle","labelOverlap":false,"labelBound":false,"labelFlush":false}}}},
{"data":{"name":"bricks"},
 "encoding":{"x":{"field":"i","type":"quantitative","scale":{"domain":[-0.25,307.25],"nice":false,"zero":false},"axis":null}},
 "layer":[
  {"transform":[{"filter":"isValid(datum.hi)"}],"mark":{"type":"bar","size":4,"color":"#afeeee","clip":true},
   "encoding":{"y":{"field":"e","type":"quantitative","scale":{"domain":[1.08367,1.10923],"nice":false,"zero":false},
  "axis":{"orient":"right","title":null,"grid":false,"domain":false,"values":[1.1091,1.108,1.1069,1.1058,1.1047,1.1036,1.1025,1.1014,1.1003,1.0992,1.0981,1.097,1.0959,1.0948,1.0937,1.0926,1.0915,1.0904,1.0893,1.0882,1.0871,1.086,1.0849,1.0838],"format":".5f","tickSize":3,"tickColor":"#8a8a8a","labelPadding":3,"labelFont":"Liberation Sans","labelFontSize":9.5,"labelColor":"#7a8592","labelBaseline":"middle","labelOverlap":false,"labelBound":false,"labelFlush":false}},"y2":{"field":"hi"}}},
  {"transform":[{"filter":"isValid(datum.lo)"}],"mark":{"type":"bar","size":4,"color":"#f5deb3","clip":true},
   "encoding":{"y":{"field":"lo","type":"quantitative","scale":{"domain":[1.08367,1.10923],"nice":false,"zero":false},
  "axis":{"orient":"right","title":null,"grid":false,"domain":false,"values":[1.1091,1.108,1.1069,1.1058,1.1047,1.1036,1.1025,1.1014,1.1003,1.0992,1.0981,1.097,1.0959,1.0948,1.0937,1.0926,1.0915,1.0904,1.0893,1.0882,1.0871,1.086,1.0849,1.0838],"format":".5f","tickSize":3,"tickColor":"#8a8a8a","labelPadding":3,"labelFont":"Liberation Sans","labelFontSize":9.5,"labelColor":"#7a8592","labelBaseline":"middle","labelOverlap":false,"labelBound":false,"labelFlush":false}},"y2":{"field":"b"}}},
  {"mark":{"type":"bar","size":4,"clip":true},
   "encoding":{"y":{"field":"b","type":"quantitative","scale":{"domain":[1.08367,1.10923],"nice":false,"zero":false},
  "axis":{"orient":"right","title":null,"grid":false,"domain":false,"values":[1.1091,1.108,1.1069,1.1058,1.1047,1.1036,1.1025,1.1014,1.1003,1.0992,1.0981,1.097,1.0959,1.0948,1.0937,1.0926,1.0915,1.0904,1.0893,1.0882,1.0871,1.086,1.0849,1.0838],"format":".5f","tickSize":3,"tickColor":"#8a8a8a","labelPadding":3,"labelFont":"Liberation Sans","labelFontSize":9.5,"labelColor":"#7a8592","labelBaseline":"middle","labelOverlap":false,"labelBound":false,"labelFlush":false}},"y2":{"field":"e"},
    "color":{"field":"d","type":"nominal","scale":{"domain":["u","d","x"],"range":["#006400","#800000","#57535b"]},"legend":null}}}
 ]},
{"encoding":{"x":{"field":"i","type":"quantitative","scale":{"domain":[-0.125,307.375],"nice":false,"zero":false},
  "axis":{"title":null,"grid":false,"domain":false,"values":[0,16,32,48,64,80,96,112,128,144,160,176,192,208,224,240,256,272,288,304],
   "labelExpr":"['29 Dec 2023','2 Jan 05:00','2 Jan 21:00','3 Jan 13:00','4 Jan 05:00','4 Jan 21:00','5 Jan 13:00','8 Jan 05:00','8 Jan 21:00','9 Jan 13:00','10 Jan 05:00','10 Jan 21:00','11 Jan 13:00','12 Jan 05:00','12 Jan 21:00','15 Jan 13:00','16 Jan 05:00','16 Jan 21:00','17 Jan 13:00','18 Jan 05:00'][round(datum.value/16)]",
   "tickSize":4,"tickColor":"#8a8a8a","labelAlign":"left","labelBaseline":"top","labelPadding":2,"labelDx":-1,"labelFont":"Liberation Sans","labelFontSize":9.5,"labelColor":"#7a8592","labelOverlap":false,"labelBound":false,"labelFlush":false}}},
 "layer":[
  {"data":{"name":"candles"},"mark":{"type":"rule","strokeWidth":1,"clip":true},
   "encoding":{"y":{"field":"l","type":"quantitative","scale":{"domain":[1.08367,1.10923],"nice":false,"zero":false},
  "axis":{"orient":"right","title":null,"grid":false,"domain":false,"values":[1.1091,1.108,1.1069,1.1058,1.1047,1.1036,1.1025,1.1014,1.1003,1.0992,1.0981,1.097,1.0959,1.0948,1.0937,1.0926,1.0915,1.0904,1.0893,1.0882,1.0871,1.086,1.0849,1.0838],"format":".5f","tickSize":3,"tickColor":"#8a8a8a","labelPadding":3,"labelFont":"Liberation Sans","labelFontSize":9.5,"labelColor":"#7a8592","labelBaseline":"middle","labelOverlap":false,"labelBound":false,"labelFlush":false}},"y2":{"field":"h"},
    "color":{"condition":{"test":"datum.c >= datum.o","value":"#c0c0c0"},"value":"#808080"}}},
  {"data":{"name":"candles"},"mark":{"type":"bar","size":3,"clip":true},
   "encoding":{"y":{"field":"o","type":"quantitative","scale":{"domain":[1.08367,1.10923],"nice":false,"zero":false},
  "axis":{"orient":"right","title":null,"grid":false,"domain":false,"values":[1.1091,1.108,1.1069,1.1058,1.1047,1.1036,1.1025,1.1014,1.1003,1.0992,1.0981,1.097,1.0959,1.0948,1.0937,1.0926,1.0915,1.0904,1.0893,1.0882,1.0871,1.086,1.0849,1.0838],"format":".5f","tickSize":3,"tickColor":"#8a8a8a","labelPadding":3,"labelFont":"Liberation Sans","labelFontSize":9.5,"labelColor":"#7a8592","labelBaseline":"middle","labelOverlap":false,"labelBound":false,"labelFlush":false}},"y2":{"field":"c"},
    "color":{"condition":{"test":"datum.c >= datum.o","value":"#c0c0c0"},"value":"#808080"}}}
 ]},
{"data":{"name":"last"},
 "encoding":{"x":{"datum":307.875,"type":"quantitative","scale":{"domain":[-0.125,307.375],"nice":false,"zero":false},"axis":null},
  "y":{"field":"p","type":"quantitative","scale":{"domain":[1.08367,1.10923],"nice":false,"zero":false},
  "axis":{"orient":"right","title":null,"grid":false,"domain":false,"values":[1.1091,1.108,1.1069,1.1058,1.1047,1.1036,1.1025,1.1014,1.1003,1.0992,1.0981,1.097,1.0959,1.0948,1.0937,1.0926,1.0915,1.0904,1.0893,1.0882,1.0871,1.086,1.0849,1.0838],"format":".5f","tickSize":3,"tickColor":"#8a8a8a","labelPadding":3,"labelFont":"Liberation Sans","labelFontSize":9.5,"labelColor":"#7a8592","labelBaseline":"middle","labelOverlap":false,"labelBound":false,"labelFlush":false}}},
 "layer":[
  {"mark":{"type":"rule","strokeWidth":13,"strokeCap":"butt","color":"#8c8c8c","clip":false},"encoding":{"x2":{"datum":318.875}}},
  {"mark":{"type":"text","align":"left","baseline":"middle","dx":5,"color":"#ffffff","font":"Liberation Sans","fontSize":9.5,"clip":false},"encoding":{"text":{"field":"t"}}}
 ]}
],
"resolve":{"scale":{"x":"independent"}}
}
